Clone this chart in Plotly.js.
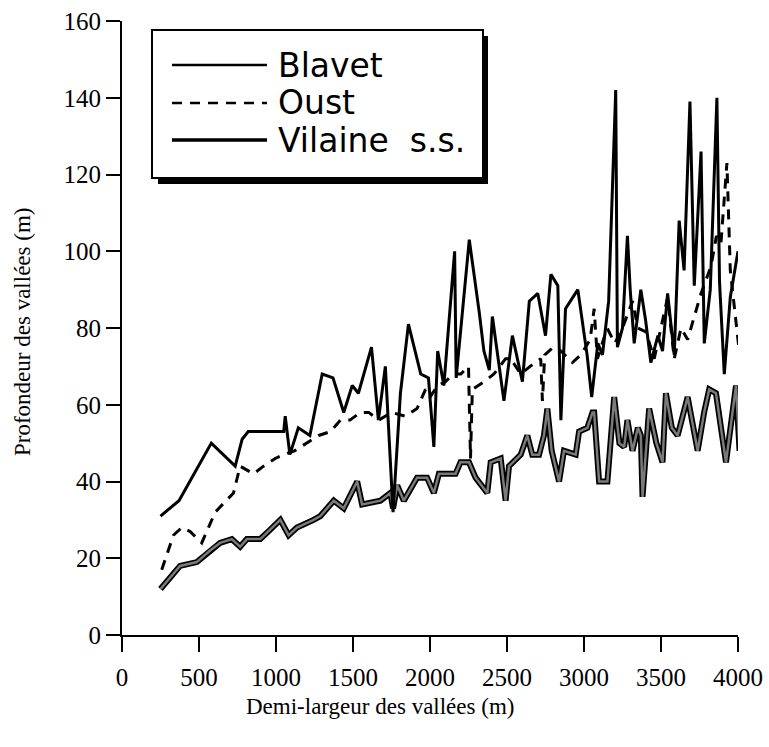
<!DOCTYPE html>
<html>
<head>
<meta charset="utf-8">
<script src="https://cdn.plot.ly/plotly-3.0.1.min.js"></script>
<style>html,body{margin:0;padding:0;background:#fff;}#chart{width:769px;height:747px;}</style>
</head>
<body>
<div id="chart"></div>
<script>
// ---- data ----
const blavetX = [250,370,580,735,780,820,1050,1060,1090,1145,1220,1300,1370,1440,1495,1535,1620,1665,1710,1760,1808,1860,1940,1990,2025,2050,2090,2160,2170,2255,2320,2350,2385,2405,2480,2535,2600,2645,2700,2750,2785,2830,2850,2880,2960,3020,3050,3090,3120,3160,3206,3217,3250,3282,3300,3326,3369,3400,3434,3480,3510,3543,3586,3618,3650,3688,3716,3760,3781,3820,3863,3880,3911,3950,4000];
const blavetY = [31,35,50,44,51,53,53,57,47,54,52,68,67,58,65,63,75,56,70,32,63,81,68,67,49,74,65,100,67,103,84,74,69,83,61,78,66,87,89,78,94,91,56,85,90,73,62,76,73,87,142,75,80,104,90,76,90,82,71,78,74,89,73,108,95,139,91,126,76,90,140,92,68,88,100];

const oustX = [258,334,388,442,518,605,724,767,854,919,995,1049,1120,1201,1277,1353,1418,1480,1548,1602,1667,1750,1841,1916,1971,2000,2050,2100,2150,2200,2250,2263,2275,2350,2415,2491,2524,2589,2650,2719,2730,2745,2800,2850,2925,2980,3040,3066,3087,3150,3200,3250,3315,3350,3402,3456,3500,3543,3586,3630,3673,3716,3760,3824,3860,3889,3928,3950,4008];
const oustY = [17,26,28,27,24,32,37,44,42,44,46,47,48,50,52,53,56,56,58,58,56,58,57,59,64,62,65,66,68,68,70,46,64,66,68,72,72,68,70,72,61,73,75,74,71,73,77,85,72,80,76,80,87,80,79,72,80,88,72,80,77,83,89,96,104,102,123,95,74];

const vilaineX = [250,312,377,486,572,637,713,767,811,898,951,1028,1082,1136,1244,1288,1375,1440,1527,1559,1678,1743,1760,1787,1830,1916,1981,2025,2058,2166,2198,2253,2296,2372,2394,2459,2491,2513,2589,2632,2664,2708,2740,2762,2790,2838,2870,2946,2968,3022,3055,3066,3098,3152,3196,3230,3261,3282,3315,3350,3369,3380,3423,3470,3510,3532,3570,3608,3673,3738,3780,3813,3857,3922,3987,4010];
const vilaineY = [12,15,18,19,22,24,25,23,25,25,27,30,26,28,30,31,35,33,40,34,35,37,33,39,35,41,41,37,42,42,45,45,41,37,45,46,35,44,47,52,47,47,52,59,48,40,48,47,53,54,58,58,40,40,62,50,49,56,48,54,52,36,59,50,45,63,54,52,62,48,58,64,63,45,65,48];

const seriesNames = ["Blavet", "Oust", "Vilaine  s.s."];
const xTickVals = [0,500,1000,1500,2000,2500,3000,3500,4000];
const yTickVals = [0,20,40,60,80,100,120,140,160];
const xTitle = "Demi-largeur des vallées (m)";
const yTitle = "Profondeur des vallées (m)";

// ---- geometry helpers for the hand-drawn legend (pixel -> paper) ----
const L = 122, R = 31, T = 21, B = 112, W = 769, H = 747;
const pw = W - L - R, ph = H - T - B;
const px = v => (v - L) / pw;
const py = v => (H - B - v) / ph;

const traces = [
  {x: vilaineX, y: vilaineY, mode: 'lines', line: {color: '#000', width: 6}, hoverinfo: 'skip', showlegend: false},
  {x: vilaineX, y: vilaineY, mode: 'lines', line: {color: '#7a7a7a', width: 2.5}, name: seriesNames[2], showlegend: false},
  {x: oustX, y: oustY, mode: 'lines', line: {color: '#000', width: 3, dash: '10px,8px'}, name: seriesNames[1], showlegend: false},
  {x: blavetX, y: blavetY, mode: 'lines', line: {color: '#000', width: 3}, name: seriesNames[0], showlegend: false}
];

const serif = 'Liberation Serif, Times New Roman, serif';
const sans = 'DejaVu Sans, sans-serif';

const legendRows = [65, 103, 140];
const legendDash = ['solid', '10px,8px', 'solid'];
const legendW = [2.5, 2.5, 3.5];

const shapes = [
  {type: 'rect', xref: 'paper', yref: 'paper', x0: px(158), x1: px(488), y0: py(184), y1: py(36), fillcolor: '#000', line: {width: 0}, layer: 'above'},
  {type: 'rect', xref: 'paper', yref: 'paper', x0: px(152), x1: px(483), y0: py(178), y1: py(30), fillcolor: '#fff', line: {color: '#000', width: 2}, layer: 'above'}
];
legendRows.forEach((r, i) => shapes.push({type: 'line', xref: 'paper', yref: 'paper', x0: px(172), x1: px(267), y0: py(r), y1: py(r), line: {color: '#000', width: legendW[i], dash: legendDash[i]}, layer: 'above'}));

const annotations = legendRows.map((r, i) => ({
  xref: 'paper', yref: 'paper', x: px(276), y: py(r), xanchor: 'left', yanchor: 'middle',
  text: seriesNames[i], showarrow: false, font: {family: sans, size: 33, color: '#000'}
}));
annotations.push({xref: 'paper', yref: 'paper', x: px(380), y: py(706), xanchor: 'center', yanchor: 'middle', text: xTitle, showarrow: false, font: {family: serif, size: 23, color: '#000'}});
annotations.push({xref: 'paper', yref: 'paper', x: px(22), y: py(332), xanchor: 'center', yanchor: 'middle', text: yTitle, textangle: -90, showarrow: false, font: {family: serif, size: 23, color: '#000'}});

const layout = {
  width: W, height: H,
  margin: {l: L, r: R, t: T, b: B, pad: 0},
  paper_bgcolor: '#fff', plot_bgcolor: '#fff',
  showlegend: false,
  xaxis: {range: [0, 4000], tickvals: xTickVals, ticktext: xTickVals.map(String), showgrid: false, zeroline: false,
          showline: true, linecolor: '#000', linewidth: 2, ticks: 'outside', ticklen: 15, tickwidth: 2, tickcolor: '#000',
          tickfont: {family: serif, size: 25, color: '#000'}, ticklabelstandoff: 4},
  yaxis: {range: [0, 160], tickvals: yTickVals, ticktext: yTickVals.map(String), showgrid: false, zeroline: false,
          showline: true, linecolor: '#000', linewidth: 2, ticks: 'outside', ticklen: 14, tickwidth: 2, tickcolor: '#000',
          tickfont: {family: serif, size: 25, color: '#000'}, ticklabelstandoff: 0},
  shapes: shapes,
  annotations: annotations
};

Plotly.newPlot('chart', traces, layout, {staticPlot: true, displayModeBar: false});
</script>
</body>
</html>
